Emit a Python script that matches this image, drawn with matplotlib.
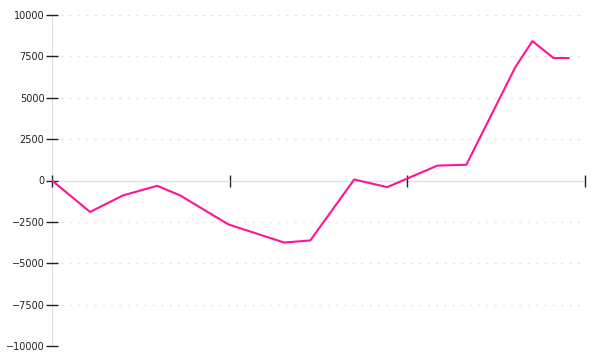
import matplotlib
matplotlib.use('Agg')
import matplotlib.pyplot as plt

# x positions in arbitrary time units (ticks every 100), y = value
x_vals = [0, 21.4, 40, 59.2, 72.1, 99.2, 130.7, 145.4, 170.1, 188.7, 216.9, 233.2, 260.8, 270.4, 282.3, 290.7]
y_vals = [0, -1900, -900, -320, -900, -2650, -3750, -3620, 60, -400, 900, 950, 6850, 8420, 7400, 7400]
x_ticks = [0, 100, 200, 300]
y_ticks = [-10000, -7500, -5000, -2500, 0, 2500, 5000, 7500, 10000]

fig = plt.figure(figsize=(6, 3.6), dpi=100)
ax = fig.add_axes([52/600, 1 - 346/360, (585 - 52)/600, (346 - 15)/360])

ax.plot(x_vals, y_vals, color='#ff1493', linewidth=1.5, zorder=3)

ax.set_xlim(0, 300)
ax.set_ylim(-10000, 10000)
ax.set_yticks(y_ticks)
ax.set_xticks(x_ticks)
ax.set_xticklabels([])

ax.yaxis.grid(True, color='#e6e6e6', linestyle=(0, (2, 4)), linewidth=1)
ax.set_axisbelow(False)

for s in ['top', 'right']:
    ax.spines[s].set_visible(False)
ax.spines['left'].set_color('#dddddd')
ax.spines['left'].set_zorder(1)
ax.spines['bottom'].set_position(('data', 0))
ax.spines['bottom'].set_color('#dddddd')
ax.spines['bottom'].set_zorder(1)

ax.tick_params(axis='y', direction='inout', length=9, width=1, color='#222222',
               labelsize=7, labelcolor='#222222', pad=1)
ax.tick_params(axis='x', direction='inout', length=9, width=1, color='#222222')

plt.savefig('out.png', dpi=100)
